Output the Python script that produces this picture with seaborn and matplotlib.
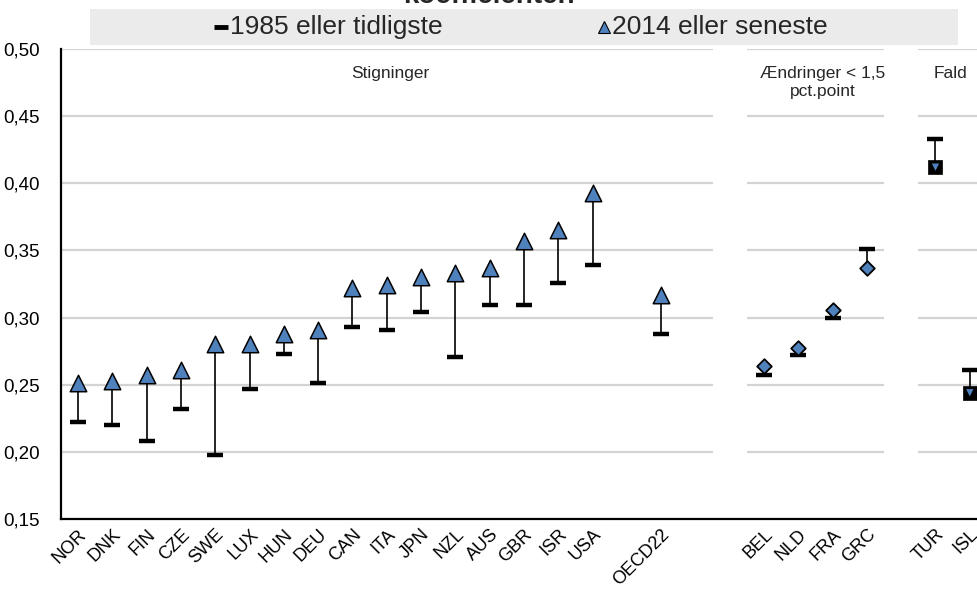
import matplotlib.pyplot as plt
import seaborn as sns
import pandas as pd
import numpy as np
from matplotlib.lines import Line2D
from matplotlib.patches import Rectangle
from matplotlib.ticker import FuncFormatter

# data (Gini values)
rise = ["NOR", "DNK", "FIN", "CZE", "SWE", "LUX", "HUN", "DEU",
        "CAN", "ITA", "JPN", "NZL", "AUS", "GBR", "ISR", "USA"]
rise_1985 = [0.222, 0.220, 0.208, 0.232, 0.198, 0.247, 0.273, 0.251,
             0.293, 0.291, 0.304, 0.271, 0.309, 0.309, 0.326, 0.339]
rise_2014 = [0.251, 0.253, 0.257, 0.261, 0.280, 0.280, 0.288, 0.291,
             0.322, 0.324, 0.330, 0.333, 0.337, 0.357, 0.365, 0.393]

oecd = ["OECD22"]
oecd_1985 = [0.288]
oecd_2014 = [0.317]

small = ["BEL", "NLD", "FRA", "GRC"]
small_1985 = [0.257, 0.272, 0.300, 0.351]
small_2014 = [0.264, 0.277, 0.306, 0.337]

fall = ["TUR", "ISL"]
fall_1985 = [0.433, 0.261]
fall_2014 = [0.412, 0.244]

group_labels = ["Stigninger", "Ændringer < 1,5\npct.point", "Fald"]

# build one table, with blank slots between the blocks
blocks = [("rise", rise, rise_1985, rise_2014, 1),
          ("oecd", oecd, oecd_1985, oecd_2014, 2),
          ("small", small, small_1985, small_2014, 1),
          ("fall", fall, fall_1985, fall_2014, 0)]
rows = []
slot = 0
for name, cc, a, b, gap in blocks:
    for c, v0, v1 in zip(cc, a, b):
        rows.append({"country": c, "v1985": v0, "v2014": v1, "group": name, "x": slot})
        slot += 1
    slot += gap
df = pd.DataFrame(rows)

sns.set_theme(style="white")
plt.rcParams["font.family"] = ["Liberation Sans", "DejaVu Sans"]

fig = plt.figure(figsize=(9.78, 5.89), dpi=100)
ax = fig.add_axes([61 / 978, 1 - 519 / 589, 1 - 61 / 978, (519 - 49) / 589])

blue = "#4F81BD"

# grid segments with gaps between the blocks
for y in [0.20, 0.25, 0.30, 0.35, 0.40, 0.45, 0.50]:
    for x0, x1 in [(-0.5, 18.5), (19.5, 23.5), (24.5, 28)]:
        ax.hlines(y, x0, x1, color="#D3D3D3", lw=1.6, zorder=0)

# connectors
ax.vlines(df["x"], df["v1985"], df["v2014"], color="black", lw=1.2, zorder=2)

# 1985 bars
ax.plot(df["x"], df["v1985"], ls="none", marker="_", ms=11, mew=3.2,
        color="black", zorder=3)

# 2014 markers
up = df[df["group"].isin(["rise", "oecd"])]
sns.scatterplot(data=up, x="x", y="v2014", marker="^", s=140, color=blue,
                edgecolor="black", linewidth=1.1, ax=ax, zorder=4)
sm = df[df["group"] == "small"]
sns.scatterplot(data=sm, x="x", y="v2014", marker="D", s=55, color=blue,
                edgecolor="black", linewidth=1.3, ax=ax, zorder=4)
fl = df[df["group"] == "fall"]
sns.scatterplot(data=fl, x="x", y="v2014", marker="s", s=110, color="black",
                edgecolor="black", linewidth=0.5, ax=ax, zorder=4)
sns.scatterplot(data=fl, x="x", y="v2014", marker="v", s=28, color=blue,
                edgecolor="none", linewidth=0, ax=ax, zorder=5)

ax.set_xlim(-0.5, 26.24)
ax.set_ylim(0.15, 0.50)
ax.set_yticks([0.15, 0.20, 0.25, 0.30, 0.35, 0.40, 0.45, 0.50])
ax.yaxis.set_major_formatter(FuncFormatter(lambda v, p: f"{v:.2f}".replace(".", ",")))
ax.set_xticks(df["x"])
ax.set_xticklabels(df["country"], rotation=45, ha="right", rotation_mode="anchor")
ax.tick_params(axis="x", length=0, pad=5, labelsize=13, colors="black")
ax.tick_params(axis="y", length=0, pad=15, labelsize=13.5, colors="black")
ax.set_xlabel("")
ax.set_ylabel("")
ax.grid(False)

for side in ["top", "right"]:
    ax.spines[side].set_visible(False)
for side in ["left", "bottom"]:
    ax.spines[side].set_color("black")
    ax.spines[side].set_linewidth(1.6)

# block labels
ax.text(9.1, 0.482, group_labels[0], ha="center", va="center", fontsize=12.5)
ax.text(21.7, 0.475, group_labels[1], ha="center", va="center", fontsize=12.5,
        linespacing=1.3)
ax.text(25.45, 0.482, group_labels[2], ha="center", va="center", fontsize=12.5)

# cut-off title at the top edge
fig.text(0.5, 1 - 3 / 589, "koefficienten", ha="center", va="baseline",
         fontsize=20, fontweight="bold")

# legend band
fig.patches.append(Rectangle((90 / 978, 1 - 45 / 589), 868 / 978, 36 / 589,
                             transform=fig.transFigure, facecolor="#EBEBEB",
                             edgecolor="none", zorder=0))
ly = 1 - 27 / 589
fig.lines.append(Line2D([221 / 978], [ly], marker="_", ms=10, mew=3.5,
                        color="black", transform=fig.transFigure))
fig.text(230 / 978, ly, "1985 eller tidligste", ha="left", va="center", fontsize=19)
fig.lines.append(Line2D([604 / 978], [ly], marker="^", ms=8, mew=0.8,
                        markerfacecolor=blue, markeredgecolor="black", ls="none",
                        transform=fig.transFigure))
fig.text(612 / 978, ly, "2014 eller seneste", ha="left", va="center", fontsize=19)

fig.savefig("out.png", dpi=100)
